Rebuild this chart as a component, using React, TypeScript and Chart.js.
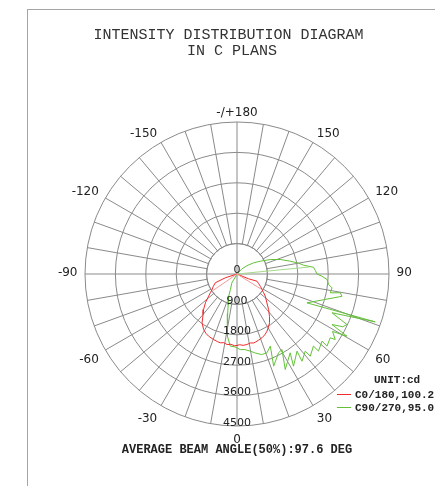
import { useEffect, useRef } from 'react';
import { Chart, registerables } from 'chart.js';

Chart.register(...registerables);

const CANVAS_W = 435;
const CANVAS_H = 486;

const TITLE_LINES = ['INTENSITY DISTRIBUTION DIAGRAM', 'IN C PLANS'];
// angle labels every 30 deg, clockwise from the top
const ANGLE_LABELS = ['-/+180', '150', '120', '90', '60', '30', '0', '-30', '-60', '-90', '-120', '-150'];
// one spoke every 10 deg, clockwise from the top
const SPOKE_LABELS = [
  '180', '170', '160', '150', '140', '130', '120', '110', '100', '90', '80', '70',
  '60', '50', '40', '30', '20', '10', '0', '-10', '-20', '-30', '-40', '-50',
  '-60', '-70', '-80', '-90', '-100', '-110', '-120', '-130', '-140', '-150', '-160', '-170',
];
const RING_TICKS = [0, 900, 1800, 2700, 3600, 4500];
const UNIT_TEXT = 'UNIT:cd';
const BEAM_TEXT = 'AVERAGE BEAM ANGLE(50%):97.6 DEG';
const LEGEND_LABELS = ['C0/180,100.2', 'C90/270,95.0'];

// C0/180 plane: gamma (deg, 0 = nadir, right positive) and intensity (cd), in path order
const RED_GAMMA = [
  -72, -72, -68, -62, -58, -55, -52, -48, -43.3, -40, -35.6, -31, -27.5, -24.5, -19.7, -16, -13.6, -11, -8, -5,
  -2, 0, 2, 5, 8, 11, 13.5, 15, 18, 21.4, 24.5, 27.7, 30.5, 33.7, 37.5, 41.7, 46, 51.9, 55, 58.2,
  62, 66, 70.2, 67.5, 68,
];
const RED_CD = [
  0, 364, 693, 800, 870, 960, 1066, 1250, 1443, 1560, 1777, 1918, 1985, 2024, 2060, 2085, 2096, 2070, 2108, 2090,
  2125, 2116, 2095, 2120, 2108, 2080, 2100, 2090, 2060, 2028, 1980, 1912, 1830, 1737, 1580, 1406, 1230, 1066, 960, 870,
  790, 700, 630, 372, 0,
];

// C90/270 plane: gamma (deg) and intensity (cd), in path order
const GREEN_GAMMA = [
  -32, -30, -23, -20.5, -16, -13.3, -11, -8.6, -5.3, -1.5, 2.5, 6, 9.8, 13, 17, 20.8, 24.8, 21.7, 27.8, 30.8,
  26.8, 34, 31.5, 37.9, 36.7, 41.5, 41.7, 46.7, 46.6, 51.7, 51.3, 55.6, 56.3, 59, 60.5, 62, 63.5, 65.3, 67.8, 70.9,
  67.6, 78, 79.7, 78.6, 81.7, 83.5, 86.5, 88.5, 90, 92.6, 95, 97.5, 100, 103.5, 108.5, 113.5, 118.8, 124, 130, 136,
  145,
];
const GREEN_CD = [
  0, 300, 500, 700, 950, 1200, 1520, 1860, 2146, 2160, 2240, 2250, 2318, 2400, 2495, 2495, 2353, 2936, 2637, 2602,
  3168, 2815, 3202, 2894, 3220, 3050, 3260, 3110, 3320, 3208, 3415, 3345, 3495, 3300, 3740, 3185, 3500, 3582, 3037, 4331,
  2240, 3177, 3108, 2818, 2842, 2729, 2670, 2516, 2368, 2320, 2276, 1989, 1850, 1622, 1353, 1075, 787, 592, 380, 213,
  0,
];

// faint radial strokes from the centre
const RED_FAINT_GAMMA = [-55.5, 58];
const RED_FAINT_CD = [890, 860];
const GREEN_FAINT_GAMMA = [95.5];
const GREEN_FAINT_CD = [2150];

const R_MAX = 4500;
const RING_STEP = 900;

const RED = '#f22a2a';
const GREEN = '#62c236';
const RED_FAINT = '#f39c9c';
const GREEN_FAINT = '#a6da8a';
const GRID = '#8a8a8a';
const BORDER = '#a5a5a5';
const TEXT = '#222222';

const toXY = (g: number, v: number) => {
  const a = (g * Math.PI) / 180;
  return { x: v * Math.sin(a), y: -v * Math.cos(a) };
};

const pathPoints = (gam: number[], cd: number[]) => gam.map((g, i) => toXY(g, cd[i]));

const spokePoints = (gam: number[], cd: number[]) => {
  const pts: { x: number; y: number }[] = [];
  gam.forEach((g, i) => {
    pts.push({ x: 0, y: 0 });
    pts.push(toXY(g, cd[i]));
    pts.push({ x: NaN, y: NaN });
  });
  return pts;
};

const decorPlugin = {
  id: 'decor',
  beforeDraw(chart: any) {
    const { ctx } = chart;
    ctx.save();
    ctx.fillStyle = '#ffffff';
    ctx.fillRect(0, 0, chart.width, chart.height);
    ctx.fillStyle = BORDER;
    ctx.fillRect(27, 9, chart.width - 27, 1);
    ctx.fillRect(27, 9, 1, chart.height - 9);
    ctx.restore();
  },
  beforeDatasetsDraw(chart: any) {
    const s = chart.scales.r;
    const { ctx } = chart;
    const xc = s.xCenter;
    const yc = s.yCenter;
    const r = s.getDistanceFromCenterForValue(RING_TICKS[1]);
    ctx.save();
    ctx.beginPath();
    ctx.arc(xc, yc, r - 0.7, 0, Math.PI * 2);
    ctx.fillStyle = '#ffffff';
    ctx.fill();
    ctx.strokeStyle = GRID;
    ctx.lineWidth = 1;
    ctx.beginPath();
    ctx.arc(xc, yc, r, 0, Math.PI * 2);
    ctx.stroke();
    ctx.beginPath();
    ctx.moveTo(xc - r, yc);
    ctx.lineTo(xc + r, yc);
    ctx.moveTo(xc, yc - r);
    ctx.lineTo(xc, yc + r);
    ctx.stroke();
    ctx.restore();
  },
  afterDraw(chart: any) {
    const s = chart.scales.r;
    const { ctx } = chart;
    const xc = s.xCenter;
    const yc = s.yCenter;
    const R = s.drawingArea;
    ctx.save();
    ctx.fillStyle = TEXT;

    // title
    ctx.font = '15px "Liberation Mono", "Courier New", monospace';
    ctx.textAlign = 'center';
    ctx.textBaseline = 'alphabetic';
    ctx.fillStyle = '#333333';
    ctx.fillText(TITLE_LINES[0], 228.5, 39);
    ctx.fillText(TITLE_LINES[1], 232, 54.5);

    // angle labels
    ctx.fillStyle = TEXT;
    ctx.font = '12px "DejaVu Sans", Verdana, sans-serif';
    const capH = 8.6;
    const D = R + 7.5;
    ANGLE_LABELS.forEach((lab, k) => {
      const idx = k * 3;
      const p = s.getPointPosition(idx, D);
      const th = (k * 30 * Math.PI) / 180;
      const sn = Math.sin(th);
      const cs = Math.cos(th);
      let align: CanvasTextAlign = 'center';
      if (sn > 0.01) align = 'left';
      else if (sn < -0.01) align = 'right';
      let base: number;
      if (cs > 0.01) base = p.y + 1;
      else if (cs < -0.01) base = p.y + capH + 1;
      else base = p.y + capH / 2 - 2.5;
      ctx.textAlign = align;
      ctx.fillText(lab, p.x, base);
    });

    // ring value labels along the nadir axis
    ctx.font = '11px "DejaVu Sans", Verdana, sans-serif';
    ctx.textAlign = 'center';
    RING_TICKS.forEach((v, i) => {
      const d = s.getDistanceFromCenterForValue(v);
      ctx.fillText(String(v), xc, yc + d - (i === 0 ? 1 : 0.5));
    });

    // legend
    ctx.textAlign = 'left';
    ctx.font = 'bold 11px "Liberation Mono", "Courier New", monospace';
    ctx.fillText(UNIT_TEXT, 374, 383);
    const colors = [RED, GREEN];
    LEGEND_LABELS.forEach((lab, i) => {
      const y = 394.5 + i * 13;
      ctx.strokeStyle = colors[i];
      ctx.lineWidth = 1;
      ctx.beginPath();
      ctx.moveTo(337, y);
      ctx.lineTo(351, y);
      ctx.stroke();
      ctx.fillStyle = TEXT;
      ctx.fillText(lab, 355, y + 3.5);
    });

    // beam angle
    ctx.font = 'bold 12px "Liberation Mono", "Courier New", monospace';
    ctx.textAlign = 'center';
    ctx.fillText(BEAM_TEXT, xc, 453);
    ctx.restore();
  },
};

export default function App() {
  const ref = useRef<HTMLCanvasElement | null>(null);

  useEffect(() => {
    if (!ref.current) return;
    const chart = new Chart(ref.current, {
      type: 'scatter',
      data: {
        labels: SPOKE_LABELS,
        datasets: [
          {
            label: 'red-faint',
            data: spokePoints(RED_FAINT_GAMMA, RED_FAINT_CD),
            showLine: true,
            borderColor: RED_FAINT,
            borderWidth: 1,
            pointRadius: 0,
            spanGaps: false,
          },
          {
            label: 'green-faint',
            data: spokePoints(GREEN_FAINT_GAMMA, GREEN_FAINT_CD),
            showLine: true,
            borderColor: GREEN_FAINT,
            borderWidth: 1,
            pointRadius: 0,
            spanGaps: false,
          },
          {
            label: LEGEND_LABELS[0],
            data: pathPoints(RED_GAMMA, RED_CD),
            showLine: true,
            borderColor: RED,
            borderWidth: 1,
            pointRadius: 0,
          },
          {
            label: LEGEND_LABELS[1],
            data: pathPoints(GREEN_GAMMA, GREEN_CD),
            showLine: true,
            borderColor: GREEN,
            borderWidth: 1,
            pointRadius: 0,
          },
        ],
      },
      options: {
        responsive: false,
        animation: false,
        events: [],
        layout: { padding: { left: 85, top: 122, right: CANVAS_W - 85 - 304, bottom: CANVAS_H - 122 - 304 } },
        plugins: { legend: { display: false }, tooltip: { enabled: false }, title: { display: false } },
        scales: {
          x: { type: 'linear', min: -R_MAX, max: R_MAX, display: false },
          y: { type: 'linear', min: -R_MAX, max: R_MAX, display: false },
          r: {
            type: 'radialLinear',
            min: 0,
            max: R_MAX,
            startAngle: 0,
            ticks: { display: false, stepSize: RING_STEP },
            grid: { circular: true, color: GRID, lineWidth: 1 },
            angleLines: { display: true, color: GRID, lineWidth: 1 },
            pointLabels: { display: false },
          },
        } as any,
      },
      plugins: [decorPlugin as any],
    });
    return () => chart.destroy();
  }, []);

  return (
    <div style={{ position: 'fixed', left: 0, top: 0, width: CANVAS_W, height: CANVAS_H, background: '#fff' }}>
      <canvas ref={ref} width={CANVAS_W} height={CANVAS_H} style={{ display: 'block' }} />
    </div>
  );
}
